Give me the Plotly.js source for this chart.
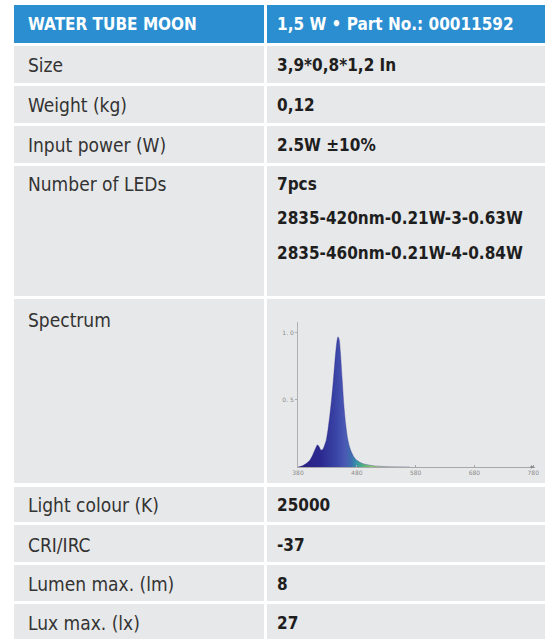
<!DOCTYPE html>
<html>
<head>
<meta charset="utf-8">
<script src="https://cdn.plot.ly/plotly-3.0.1.min.js"></script>
<style>html,body{margin:0;padding:0;background:#fff;}#chart{width:545px;height:639px;}</style>
</head>
<body>
<div id="chart"></div>
<script>
// ---- Data ----
const headerLeft = "WATER TUBE MOON";
const headerRight = "1,5 W • Part No.: 00011592";
const rowLabels = ["Size", "Weight (kg)", "Input power (W)", "Number of LEDs", "Spectrum",
                   "Light colour (K)", "CRI/IRC", "Lumen max. (lm)", "Lux max. (lx)"];
const rowValues = ["3,9*0,8*1,2 In", "0,12", "2.5W ±10%", "7pcs", "", "25000", "-37", "8", "27"];
const ledDetails = ["2835-420nm-0.21W-3-0.63W", "2835-460nm-0.21W-4-0.84W"];

const wavelength = [380, 385, 390, 395, 400, 405, 410, 413, 416, 419, 422, 425, 428, 431, 434, 437,
                    440, 443, 446, 448, 450, 452, 455, 458, 461, 464, 467, 470, 475, 480, 485, 490,
                    500, 510, 520, 535, 550, 570];
const intensity  = [0, 0.005, 0.015, 0.03, 0.05, 0.09, 0.14, 0.165, 0.15, 0.125, 0.13, 0.16, 0.2, 0.28, 0.38, 0.5,
                    0.64, 0.8, 0.93, 0.97, 0.95, 0.86, 0.66, 0.46, 0.32, 0.22, 0.16, 0.12, 0.075, 0.05, 0.035, 0.025,
                    0.015, 0.008, 0.005, 0.002, 0.001, 0];
const xTicks = [380, 480, 580, 680, 780];
const yTicks = [0.5, 1.0];

// ---- Layout geometry (pixels) ----
const W = 545, H = 639;
const X = p => p / W;
const Y = p => 1 - p / H;
const leftCol = [14, 264], rightCol = [267, 545];
const headerBox = [5, 43];
const rowBoxes = [[46, 83], [86, 123], [126, 163], [166, 296], [299, 483],
                  [487, 522], [525, 562], [565, 601], [604, 639]];
const labelFont = {family: "DejaVu Sans Condensed, Liberation Sans Narrow, Arial Narrow, Roboto, sans-serif", size: 19, color: "#333333"};
const valueFont = {family: "DejaVu Sans Condensed, Liberation Sans Narrow, Arial Narrow, Roboto, sans-serif", size: 17, color: "#1e1e1e"};
const headFont = {family: "DejaVu Sans Condensed, Liberation Sans Narrow, Arial Narrow, Roboto, sans-serif", size: 17, color: "#ffffff"};
const headBlue = "#2a8ed1", cellGray = "#e7e8e9";

const shapes = [];
function rect(x0, x1, y0, y1, color) {
  shapes.push({type: "rect", xref: "paper", yref: "paper", layer: "below",
    x0: X(x0), x1: X(x1), y0: Y(y1), y1: Y(y0), fillcolor: color, line: {width: 0}});
}
rect(leftCol[0], leftCol[1], headerBox[0], headerBox[1], headBlue);
rect(rightCol[0], rightCol[1], headerBox[0], headerBox[1], headBlue);
rowBoxes.forEach(b => {
  rect(leftCol[0], leftCol[1], b[0], b[1], cellGray);
  rect(rightCol[0], rightCol[1], b[0], b[1], cellGray);
});

const annotations = [];
function txt(x, y, text, font) {
  annotations.push({xref: "paper", yref: "paper", x: X(x), y: Y(y), xanchor: "left", yanchor: "middle",
    text: text, showarrow: false, font: font});
}
txt(26, 24, "<b>" + headerLeft + "</b>", headFont);
txt(275, 24, "<b>" + headerRight + "</b>", headFont);
const textY = [64.5, 104.5, 144.5, 184, 320, 505, 544.5, 583.5, 622.5];
rowLabels.forEach((l, i) => {
  txt(26, textY[i], l, labelFont);
  if (rowValues[i]) txt(275, textY[i], "<b>" + rowValues[i] + "</b>", valueFont);
});
const ledY = [218.5, 252.5];
ledDetails.forEach((d, i) => txt(275, ledY[i], "<b>" + d + "</b>", valueFont));

// axis arrows
annotations.push({xref: "x", yref: "y", x: 380, y: 1.1, ax: 0, ay: 6, axref: "pixel", ayref: "pixel",
  showarrow: true, arrowhead: 2, arrowsize: 0.7, arrowwidth: 1, arrowcolor: "#8a8a8a", text: ""});
annotations.push({xref: "x", yref: "y", x: 782, y: 0, ax: -6, ay: 0,
  showarrow: true, arrowhead: 2, arrowsize: 0.7, arrowwidth: 1, arrowcolor: "#8a8a8a", text: ""});

const trace = {
  x: wavelength, y: intensity, type: "scatter", mode: "lines",
  line: {width: 0.6, color: "rgba(45,40,140,0.6)", shape: "spline", smoothing: 0.6},
  fill: "tozeroy",
  fillgradient: {type: "horizontal", start: 380, stop: 560,
    colorscale: [[0, "#2a1f7e"], [0.22, "#2c2a90"], [0.36, "#3a45a6"], [0.44, "#4a58b4"],
                 [0.5, "#3f6cb0"], [0.55, "#3592a8"], [0.6, "#4aae84"], [0.7, "#8ccd6a"],
                 [0.82, "#cfe39a"], [1, "#eef0d0"]]},
  hoverinfo: "skip"
};

const tickFont = {family: "DejaVu Sans, sans-serif", size: 6, color: "#8c8c8c"};
const layout = {
  width: W, height: H, margin: {l: 0, r: 0, t: 0, b: 0},
  paper_bgcolor: "#ffffff", plot_bgcolor: "rgba(0,0,0,0)",
  showlegend: false,
  xaxis: {domain: [X(298), X(535)], range: [380, 783], showgrid: false, zeroline: false,
    showline: true, linecolor: "#a8a8a8", linewidth: 1, tickvals: xTicks, ticktext: xTicks.map(String),
    ticks: "inside", ticklen: 2, tickcolor: "#a8a8a8", tickfont: tickFont, fixedrange: true},
  yaxis: {domain: [Y(467), Y(322)], range: [0, 1.08], showgrid: false, zeroline: false,
    showline: true, linecolor: "#b0b0b0", linewidth: 1, tickvals: yTicks, ticktext: ["1. 0", "0. 5"].reverse(),
    ticks: "outside", ticklen: 2, tickcolor: "#a8a8a8", tickfont: tickFont, fixedrange: true},
  shapes: shapes, annotations: annotations
};
Plotly.newPlot("chart", [trace], layout, {staticPlot: true, displayModeBar: false});
</script>
</body>
</html>
